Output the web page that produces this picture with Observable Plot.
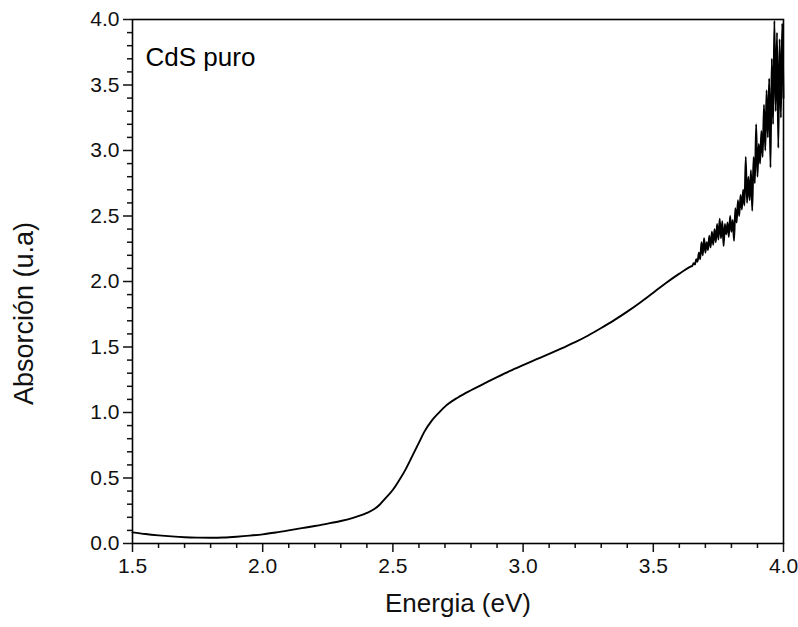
<!DOCTYPE html>
<html>
<head>
<meta charset="utf-8">
<script src="https://cdn.jsdelivr.net/npm/d3@7"></script>
<script src="https://cdn.jsdelivr.net/npm/@observablehq/plot@0.6"></script>
<style>
  html, body { margin: 0; padding: 0; background: #fff; }
  svg { font-family: "Liberation Sans", Arial, sans-serif; }
</style>
</head>
<body>
<div id="chart"></div>
<script>
// Smooth part of the spectrum (Energia eV, Absorción u.a)
const energySmooth = [1.50,1.55,1.60,1.65,1.70,1.75,1.80,1.85,1.90,1.95,2.00,2.05,2.10,2.15,2.20,2.25,2.30,2.35,2.40,2.43,2.45,2.47,2.50,2.52,2.55,2.58,2.60,2.62,2.65,2.68,2.70,2.75,2.80,2.85,2.90,2.95,3.00,3.05,3.10,3.15,3.20,3.25,3.30,3.35,3.40,3.45,3.50,3.55,3.60,3.645];
const absSmooth    = [0.085,0.072,0.062,0.054,0.048,0.045,0.044,0.046,0.052,0.060,0.070,0.084,0.100,0.117,0.134,0.152,0.172,0.198,0.233,0.265,0.298,0.342,0.410,0.470,0.570,0.690,0.770,0.850,0.940,1.005,1.045,1.115,1.170,1.220,1.270,1.318,1.362,1.405,1.448,1.492,1.537,1.588,1.645,1.705,1.770,1.840,1.915,1.990,2.060,2.115];
// Noisy high-energy tail
const energyTail = [3.650,3.655,3.660,3.665,3.670,3.675,3.680,3.685,3.690,3.695,3.700,3.705,3.710,3.715,3.720,3.725,3.730,3.735,3.740,3.745,3.750,3.755,3.760,3.765,3.770,3.775,3.780,3.785,3.790,3.795,3.800,3.805,3.810,3.815,3.820,3.825,3.830,3.835,3.840,3.845,3.850,3.855,3.860,3.865,3.870,3.875,3.880,3.885,3.890,3.895,3.900,3.905,3.910,3.915,3.920,3.925,3.930,3.935,3.940,3.945,3.950,3.955,3.960,3.965,3.970,3.975,3.980,3.985,3.990,3.995,4.000];
const absTail    = [2.12,2.14,2.13,2.17,2.15,2.22,2.17,2.30,2.20,2.33,2.22,2.30,2.24,2.35,2.26,2.38,2.28,2.40,2.30,2.44,2.32,2.48,2.33,2.46,2.27,2.44,2.36,2.45,2.34,2.50,2.38,2.47,2.31,2.56,2.45,2.62,2.50,2.66,2.55,2.70,2.58,2.95,2.60,2.80,2.62,2.85,2.54,2.95,2.75,3.20,2.80,3.05,2.90,3.15,2.95,3.35,3.00,3.46,3.10,3.55,2.87,3.70,3.20,3.99,3.30,3.90,3.02,3.85,3.25,3.97,3.40];

const xMajor = [1.5,2.0,2.5,3.0,3.5,4.0];
const xMinor = [1.6,1.7,1.8,1.9,2.1,2.2,2.3,2.4,2.6,2.7,2.8,2.9,3.1,3.2,3.3,3.4,3.6,3.7,3.8,3.9];
const yMajor = [0,0.5,1.0,1.5,2.0,2.5,3.0,3.5,4.0];
const yMinor = [0.1,0.2,0.3,0.4,0.6,0.7,0.8,0.9,1.1,1.2,1.3,1.4,1.6,1.7,1.8,1.9,2.1,2.2,2.3,2.4,2.6,2.7,2.8,2.9,3.1,3.2,3.3,3.4,3.6,3.7,3.8,3.9];

const xLabel = "Energia (eV)";
const yLabel = "Absorción (u.a)";
const sampleLabel = "CdS puro";

const data = [
  ...energySmooth.map((e, i) => ({e, a: absSmooth[i]})),
  ...energyTail.map((e, i) => ({e, a: absTail[i]}))
];

const fmt = d3.format(".1f");

const chart = Plot.plot({
  width: 798,
  height: 627,
  marginLeft: 132,
  marginRight: 15,
  marginTop: 19,
  marginBottom: 84,
  style: {fontFamily: "Liberation Sans, Arial, sans-serif", color: "#111", background: "#fff"},
  x: {domain: [1.5, 4.0]},
  y: {domain: [0, 4.0]},
  marks: [
    Plot.axisX({ticks: xMinor, tickSize: 5, tickFormat: () => "", label: null, strokeWidth: 1.5}),
    Plot.axisY({ticks: yMinor, tickSize: 5, tickFormat: () => "", label: null, strokeWidth: 1.5}),
    Plot.axisX({ticks: xMajor, tickSize: 9, tickPadding: 6, tickFormat: fmt, label: null, fontSize: 21, strokeWidth: 1.5}),
    Plot.axisY({ticks: yMajor, tickSize: 9, tickPadding: 4, tickFormat: fmt, label: null, fontSize: 21, strokeWidth: 1.5}),
    Plot.line(data, {x: "e", y: "a", stroke: "#000", strokeWidth: 1.9, curve: "monotone-x"}),
    Plot.frame({stroke: "#000", strokeWidth: 1.6}),
    Plot.text([sampleLabel], {frameAnchor: "top-left", dx: 13, dy: 28, textAnchor: "start", fontSize: 26, fill: "#000"}),
    Plot.text([xLabel], {frameAnchor: "bottom", dy: 68, fontSize: 26, fill: "#111"}),
    Plot.text([yLabel], {frameAnchor: "left", dx: -108, dy: 32, rotate: -90, textAnchor: "middle", fontSize: 27, fill: "#111"})
  ]
});
document.getElementById("chart").appendChild(chart);
</script>
</body>
</html>
